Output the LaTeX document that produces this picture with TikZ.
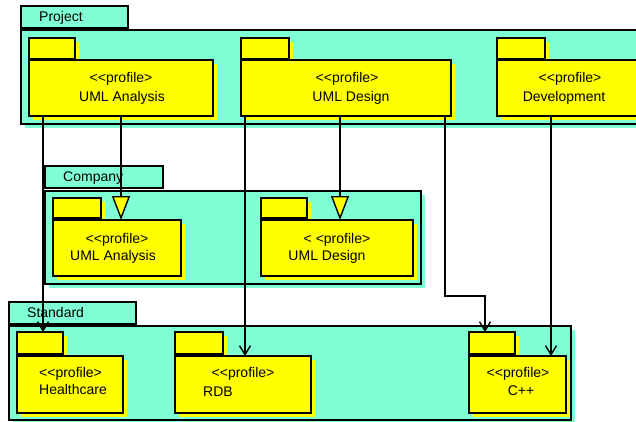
\documentclass[tikz,border=0pt]{standalone}
\usepackage{fontspec}
\setmainfont{Liberation Sans}
\usetikzlibrary{arrows.meta,shadows,calc}
\definecolor{pkgcyan}{RGB}{127,255,212}
\definecolor{pkgyellow}{RGB}{255,255,0}
\newcommand{\myprof}{\mbox{<}\mbox{<}profile\mbox{>}}
\tikzset{
  box/.style={draw=black, line width=1.7pt, anchor=north west, inner sep=0pt, outer sep=0pt},
  pkgtab/.style={box, fill=pkgcyan},
  pkgbody/.style={box, fill=pkgcyan, drop shadow={shadow xshift=3.5pt, shadow yshift=-3.5pt, fill=pkgcyan, opacity=1}},
  proftab/.style={box, fill=pkgyellow, drop shadow={shadow xshift=4pt, shadow yshift=-4pt, fill=pkgyellow, opacity=1}},
  profbody/.style={box, fill=pkgyellow, drop shadow={shadow xshift=4pt, shadow yshift=-4pt, fill=pkgyellow, opacity=1}},
  txt/.style={inner sep=0pt, font=\fontsize{14}{16}\selectfont, anchor=base},
  txtl/.style={txt, anchor=base west},
  dep/.style={line width=1.4pt, -{Straight Barb[length=9pt,width=11pt]}},
  gen/.style={line width=1.4pt, -{Triangle[length=24pt,width=18pt,fill=pkgyellow]}}
}
\begin{document}
\begin{tikzpicture}[x=1pt,y=-1pt]
\useasboundingbox (0,0) rectangle (636,421);
\clip (0,0) rectangle (636,421);
% Project
\node[pkgtab, minimum width=107pt, minimum height=22pt] (ptab) at (21,6) {};
\node[pkgbody, minimum width=630pt, minimum height=94pt] (pbody) at (21,30) {};
\node[txtl] (ptabtxt) at (39,21) {Project};
\node[proftab, minimum width=46pt, minimum height=21pt] (puatab) at (29,38) {};
\node[profbody, minimum width=184pt, minimum height=56pt] (puab) at (29,60) {};
\node[txt] (puat1) at (121,82.5) {\myprof};
\node[txt] (puat2) at (122,101) {UML Analysis};
\node[proftab, minimum width=48pt, minimum height=21pt] (pudtab) at (241,38) {};
\node[profbody, minimum width=210pt, minimum height=56pt] (pudb) at (241,60) {};
\node[txt] (pudt1) at (347,82.5) {\myprof};
\node[txt] (pudt2) at (351,101) {UML Design};
\node[proftab, minimum width=48pt, minimum height=21pt] (pdevtab) at (497,38) {};
\node[profbody, minimum width=160pt, minimum height=56pt] (pdevb) at (497,60) {};
\node[txt] (pdevt1) at (570,82.5) {\myprof};
\node[txt] (pdevt2) at (564,101) {Development};
% Company
\node[pkgtab, minimum width=118pt, minimum height=22pt] (ctab) at (45,166) {};
\node[pkgbody, minimum width=376pt, minimum height=93pt] (cbody) at (45,191) {};
\node[txtl] (ctabtxt) at (63,181.5) {Company};
\node[proftab, minimum width=48pt, minimum height=20pt] (cuatab) at (53,198) {};
\node[profbody, minimum width=128pt, minimum height=56pt] (cuab) at (53,220) {};
\node[txt] (cuat1) at (117,243.3) {\myprof};
\node[txt] (cuat2) at (113,260.7) {UML Analysis};
\node[proftab, minimum width=46pt, minimum height=20pt] (cudtab) at (261,198) {};
\node[profbody, minimum width=152pt, minimum height=56pt] (cudb) at (261,220) {};
\node[txt] (cudt1) at (337,243.3) {\mbox{<} \mbox{<}profile\mbox{>}};
\node[txt] (cudt2) at (327,260.7) {UML Design};
% Standard
\node[pkgtab, minimum width=127pt, minimum height=22pt] (stab) at (9,302) {};
\node[pkgbody, minimum width=562pt, minimum height=94pt] (sbody) at (9,326) {};
\node[txtl] (stabtxt) at (27,317) {Standard};
\node[proftab, minimum width=46pt, minimum height=22pt] (hctab) at (17,332) {};
\node[profbody, minimum width=106pt, minimum height=57pt] (hcb) at (17,356) {};
\node[txtl] (hct1) at (39,377) {\myprof};
\node[txtl] (hct2) at (39,394.7) {Healthcare};
\node[proftab, minimum width=48pt, minimum height=22pt] (rdbtab) at (175,332) {};
\node[profbody, minimum width=136pt, minimum height=57pt] (rdbb) at (175,356) {};
\node[txt] (rdbt1) at (243,377) {\myprof};
\node[txtl] (rdbt2) at (203,396.7) {RDB};
\node[proftab, minimum width=46pt, minimum height=22pt] (cpptab) at (469,332) {};
\node[profbody, minimum width=97pt, minimum height=57pt] (cppb) at (469,356) {};
\node[txt] (cppt1) at (518,377) {\myprof};
\node[txt] (cppt2) at (521,395) {C++};
% connectors
\coordinate (s1) at ($(puab.south west)+(14,0)$);
\draw[dep] (s1) -- (s1 |- hctab.north);
\coordinate (s2) at (puab.south);
\draw[gen] (s2) -- (s2 |- cuab.north);
\coordinate (s3) at ($(pudb.south west)+(4,0)$);
\draw[dep] (s3) -- (s3 |- rdbb.north);
\coordinate (s4) at ($(pudb.south west)+(99,0)$);
\draw[gen] (s4) -- (s4 |- cudb.north);
\coordinate (s5) at ($(pudb.south west)+(204,0)$);
\coordinate (k5) at ($(s5)+(0,180)$);
\coordinate (e5) at ($(cpptab.north west)+(16,0)$);
\draw[dep] (s5) -- (k5) -| (e5);
\coordinate (s6) at ($(pdevb.south west)+(54,0)$);
\draw[dep] (s6) -- (s6 |- cppb.north);
\end{tikzpicture}
\end{document}
